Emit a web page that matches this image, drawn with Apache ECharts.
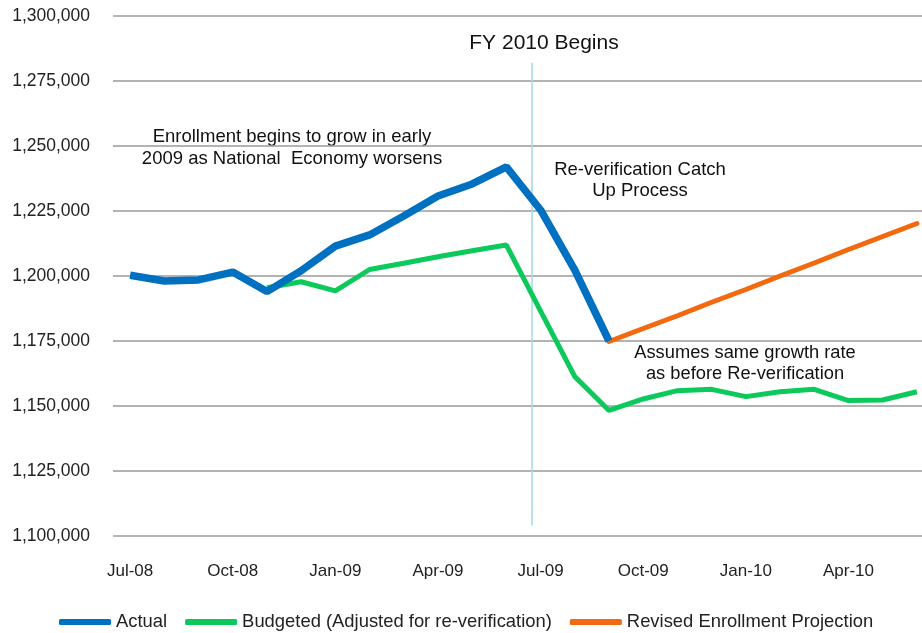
<!DOCTYPE html>
<html>
<head>
<meta charset="utf-8">
<script src="https://cdn.jsdelivr.net/npm/echarts@6/dist/echarts.min.js"></script>
<style>html,body{margin:0;padding:0;background:#fff}#c{width:922px;height:633px}</style>
</head>
<body>
<div id="c"></div>
<script>
var months = ['Jul-08','Aug-08','Sep-08','Oct-08','Nov-08','Dec-08','Jan-09','Feb-09','Mar-09','Apr-09','May-09','Jun-09',
              'Jul-09','Aug-09','Sep-09','Oct-09','Nov-09','Dec-09','Jan-10','Feb-10','Mar-10','Apr-10','May-10','Jun-10'];
var actual = [1200300,1198100,1198500,1201500,1194000,1202000,1211500,1215800,1223100,1230800,1235400,1242000,
              1225400,1202300,1175000,null,null,null,null,null,null,null,null,null];
var budgeted = [null,null,null,null,1195500,1197800,1194300,1202500,1204900,1207400,1209700,1211900,
                1186500,1161300,1148300,1152700,1155900,1156400,1153600,1155500,1156400,1152100,1152300,1155500];
var revised = [null,null,null,null,null,null,null,null,null,null,null,null,
               null,null,1174800,1179800,1184700,1189900,1194800,1200000,1205000,1210200,1215200,1220200];
var fyLine = [[11.75,1282000],[11.75,1104000]];
var yTicks = {min:1100000, max:1300000, interval:25000};

var chart = echarts.init(document.getElementById('c'));
var font = 'Liberation Sans, Arial, sans-serif';
chart.setOption({
  animation:false,
  textStyle:{fontFamily:font},
  grid:{left:113, width:821, top:16, height:520, containLabel:false, outerBoundsMode:'none'},
  xAxis:[{
    type:'category', data:months, boundaryGap:true,
    axisLine:{show:false}, axisTick:{show:false},
    axisLabel:{interval:2, color:'#222', fontSize:17, margin:27, fontFamily:font}
  },{
    type:'value', min:-0.5, max:23.5, show:false
  }],
  yAxis:{
    type:'value', min:yTicks.min, max:yTicks.max, interval:yTicks.interval,
    axisLine:{show:false}, axisTick:{show:false},
    axisLabel:{color:'#222', fontSize:17.5, margin:23, fontFamily:font,
      formatter:function(v){return v.toString().replace(/\B(?=(\d{3})+(?!\d))/g, ',');}},
    splitLine:{lineStyle:{color:'#9a9a9a', width:1.5}}
  },
  legend:{
    data:['Actual','Budgeted (Adjusted for re-verification)','Revised Enrollment Projection'],
    top:608, left:54, icon:'roundRect', itemWidth:52, itemHeight:6, itemGap:18,
    textStyle:{color:'#222', fontSize:18.4, fontFamily:font}
  },
  series:[
    {name:'Actual', type:'line', data:actual, symbol:'none', color:'#0070C0',
     lineStyle:{width:7.5, color:'#0070C0'}, z:4},
    {name:'Budgeted (Adjusted for re-verification)', type:'line', data:budgeted, symbol:'none', color:'#0BC95A',
     lineStyle:{width:5, color:'#0BC95A'}, z:3},
    {name:'Revised Enrollment Projection', type:'line', data:revised, symbol:'none', color:'#F26A10',
     lineStyle:{width:5, color:'#F26A10', cap:'round'}, z:3},
    {name:'FY', type:'line', xAxisIndex:1, data:fyLine, symbol:'none', silent:true,
     lineStyle:{width:1.5, color:'#A8D8E0'}, z:2}
  ],
  graphic:[
    {type:'text', position:[544,43], style:{text:'FY 2010 Begins', fill:'#111', font:'21px '+font, textAlign:'center', textVerticalAlign:'middle'}},
    {type:'text', position:[292,148], style:{text:'Enrollment begins to grow in early\n2009 as National  Economy worsens', fill:'#111', font:'18.5px '+font, textAlign:'center', textVerticalAlign:'middle', lineHeight:22}},
    {type:'text', position:[640,180], style:{text:'Re-verification Catch\nUp Process', fill:'#111', font:'18.5px '+font, textAlign:'center', textVerticalAlign:'middle', lineHeight:21}},
    {type:'text', position:[745,363], style:{text:'Assumes same growth rate\nas before Re-verification', fill:'#111', font:'18.3px '+font, textAlign:'center', textVerticalAlign:'middle', lineHeight:21}}
  ]
});
</script>
</body>
</html>
